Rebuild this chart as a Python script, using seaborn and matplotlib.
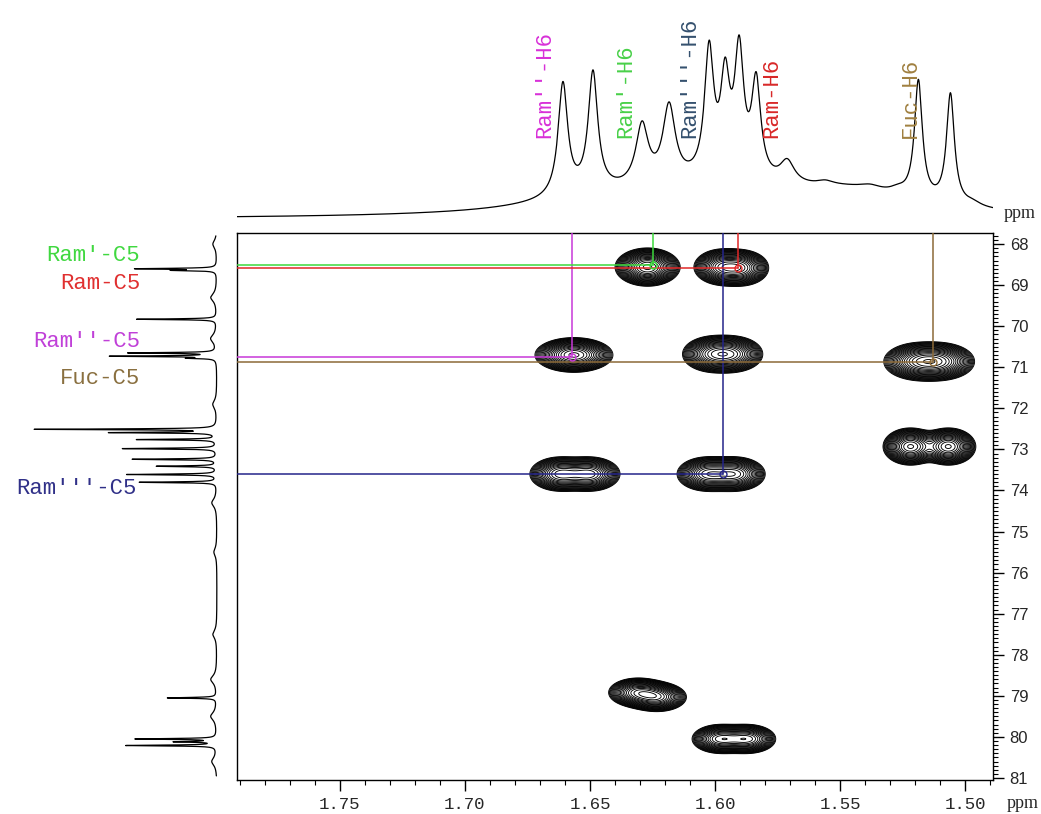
import numpy as np
import pandas as pd
import matplotlib
matplotlib.use("Agg")
import matplotlib.pyplot as plt
from matplotlib.ticker import MultipleLocator
import seaborn as sns

# --- 1H projection (top): peak ppm, height, half width ---
h_ppm = [1.6608, 1.6488, 1.6292, 1.6184, 1.6024, 1.5960, 1.5904, 1.5836, 1.5712,
         1.5188, 1.5060, 1.600, 1.545, 1.650, 1.556, 1.538, 1.527, 1.497]
h_amp = [112, 118, 60, 76, 125, 92, 122, 95, 22,
         118, 110, 28, 18, 10, 4, 4, 5, 4]
h_wid = [0.0023, 0.0023, 0.0030, 0.0030, 0.0022, 0.0022, 0.0022, 0.0022, 0.0035,
         0.0019, 0.0019, 0.045, 0.030, 0.030, 0.004, 0.005, 0.004, 0.004]
h_base = 3

# --- 13C projection (left): peak ppm, height ---
c_ppm = [68.60, 68.64, 69.83, 70.65, 70.73, 70.78, 72.51, 72.59, 72.76, 72.98,
         73.24, 73.41, 73.61, 73.80, 79.05, 80.05, 80.12, 80.21]
c_amp = [79, 40, 80, 87, 104, 25, 182, 104, 80, 94,
         84, 60, 90, 77, 49, 80, 40, 90]
c_bump_ppm = [68.0, 69.3, 70.3, 71.9, 74.3, 75.5, 77.5, 78.6, 79.5, 80.6]
c_bump_amp = [4, 6, 6, 4, 5, 3, 4, 6, 6, 5]
c_base = 8

# --- HSQC cross peaks: 1H ppm, 13C ppm, x width, y width ---
xp_h = [1.627, 1.5975, 1.5895, 1.6564, 1.601, 1.593, 1.519, 1.510,
        1.522, 1.5068, 1.662, 1.650, 1.6032, 1.592, 1.631, 1.623, 1.598, 1.587]
xp_c = [68.56, 68.56, 68.58, 70.70, 70.68, 70.68, 70.86, 70.86,
        72.93, 72.93, 73.60, 73.60, 73.60, 73.60, 78.92, 79.03, 80.05, 80.05]
xp_amp = [1.0, 0.65, 0.65, 1.0, 0.65, 0.65, 0.65, 0.65,
          0.85, 0.85, 0.65, 0.65, 0.65, 0.65, 0.65, 0.65, 0.65, 0.65]
xp_sx = [0.0075, 0.0068, 0.0068, 0.009, 0.0075, 0.0075, 0.0085, 0.0085,
         0.0065, 0.0065, 0.0075, 0.0075, 0.0075, 0.0075, 0.0072, 0.0072, 0.007, 0.007]
xp_sy = [0.27, 0.27, 0.27, 0.245, 0.27, 0.27, 0.28, 0.28,
         0.27, 0.27, 0.26, 0.26, 0.26, 0.26, 0.22, 0.22, 0.22, 0.22]

# --- assignments ---
h_names = ["Ram''-H6", "Ram'-H6", "Ram'''-H6", "Ram-H6", "Fuc-H6"]
c_names = ["Ram''-C5", "Ram'-C5", "Ram'''-C5", "Ram-C5", "Fuc-C5"]
asg_h = [1.657, 1.625, 1.597, 1.591, 1.513]
asg_c = [70.74, 68.51, 73.60, 68.59, 70.86]
asg_colors = ["#c838d8", "#3cd83c", "#24248a", "#e02828", "#8c6a38"]
h_label_colors = ["#d830d8", "#48d048", "#34506e", "#d82828", "#a08040"]
c_label_colors = ["#c040d8", "#40d840", "#303088", "#e03030", "#8a7040"]

x_lim = (1.791, 1.489)
y_lim = (81.05, 67.73)

sns.set_style("white")
plt.rcParams["font.family"] = ["DejaVu Sans"]
mono = "Liberation Mono"

W, H = 1041, 814
fig = plt.figure(figsize=(W / 100, H / 100), dpi=100)

def box(x0, y0, x1, y1):
    return [x0 / W, 1 - y1 / H, (x1 - x0) / W, (y1 - y0) / H]

ax = fig.add_axes(box(237, 233, 993, 780))
ax_top = fig.add_axes(box(237, 0, 993, 222))
ax_left = fig.add_axes(box(0, 233, 225, 780))

# 2D contours
gx = np.linspace(x_lim[1], x_lim[0], 600)
gy = np.linspace(y_lim[1], y_lim[0], 700)
X, Y = np.meshgrid(gx, gy)
Z = np.zeros_like(X)
for h, c, a, sx, sy in zip(xp_h, xp_c, xp_amp, xp_sx, xp_sy):
    Z += a * np.exp(-(((X - h) / sx) ** 2 + ((Y - c) / sy) ** 2))
levels = np.geomspace(0.05, 0.95, 22)
ax.contour(X, Y, Z, levels=levels, colors="black", linewidths=0.65)

# assignment lines
for h, c, col in zip(asg_h, asg_c, asg_colors):
    ax.plot([h, h], [y_lim[1], c], color=col, lw=1.1, zorder=5)
    ax.plot([x_lim[0], h], [c, c], color=col, lw=1.1, zorder=5)
    ax.plot([h], [c], marker="o", ms=5, mfc="none", mec=col, mew=1, zorder=6)

ax.set_xlim(*x_lim)
ax.set_ylim(*y_lim)
ax.yaxis.tick_right()
ax.xaxis.set_major_locator(MultipleLocator(0.05))
ax.xaxis.set_minor_locator(MultipleLocator(0.01))
ax.yaxis.set_major_locator(MultipleLocator(1))
ax.yaxis.set_minor_locator(MultipleLocator(0.1))
ax.tick_params(which="major", direction="out", length=8, width=1, color="black", pad=4)
ax.tick_params(which="minor", direction="out", length=3.5, width=0.8, color="black")
ax.tick_params(axis="x", which="both", bottom=True)
ax.tick_params(axis="y", which="both", right=True, left=False)
ax.set_xticks([1.75, 1.70, 1.65, 1.60, 1.55, 1.50])
ax.set_xticklabels(["1.75", "1.70", "1.65", "1.60", "1.55", "1.50"],
                   fontfamily=mono, fontsize=12.5)
for lab in ax.get_yticklabels():
    lab.set_fontfamily("Liberation Sans")
    lab.set_fontsize(12)
for sp in ax.spines.values():
    sp.set_color("black")
    sp.set_linewidth(1)

# top 1H projection
hx = np.linspace(x_lim[1], x_lim[0], 4000)
hy = np.full_like(hx, float(h_base))
for p, a, w in zip(h_ppm, h_amp, h_wid):
    hy += a / (1 + ((hx - p) / w) ** 2)
sns.lineplot(x=hx, y=hy, ax=ax_top, color="black", lw=0.9, sort=False, estimator=None)
ax_top.set_xlim(*x_lim)
ax_top.set_ylim(0, 222)
ax_top.axis("off")
for name, col, pos in zip(h_names, h_label_colors, [1.668, 1.6356, 1.610, 1.5772, 1.522]):
    ax_top.text(pos, 84, name, rotation=90, ha="center", va="bottom",
                color=col, fontfamily=mono, fontsize=16)

# left 13C projection
cy = np.linspace(67.8, 80.95, 5000)
cx = np.full_like(cy, float(c_base))
for p, a in zip(c_ppm, c_amp):
    cx += a / (1 + ((cy - p) / 0.012) ** 2)
for p, a in zip(c_bump_ppm, c_bump_amp):
    cx += a / (1 + ((cy - p) / 0.12) ** 2)
sns.lineplot(x=cx, y=cy, ax=ax_left, color="black", lw=0.9, sort=False,
             estimator=None, orient="y")
ax_left.set_xlim(225, 0)
ax_left.set_ylim(*y_lim)
ax_left.axis("off")
c_label_y = [70.38, 68.27, 73.95, 68.95, 71.28]
c_label_x = [85, 85, 88, 85, 85]
for name, col, ly, lx in zip(c_names, c_label_colors, c_label_y, c_label_x):
    ax_left.text(lx, ly, name, ha="right", va="center", color=col,
                 fontfamily=mono, fontsize=16)

fig.text(1023 / W, 1 - 803 / H, "ppm", ha="center", va="center",
         fontfamily="Liberation Serif", fontsize=13)
fig.text(1020 / W, 1 - 213 / H, "ppm", ha="center", va="center",
         fontfamily="Liberation Serif", fontsize=13)

fig.savefig("out.png", dpi=100)
